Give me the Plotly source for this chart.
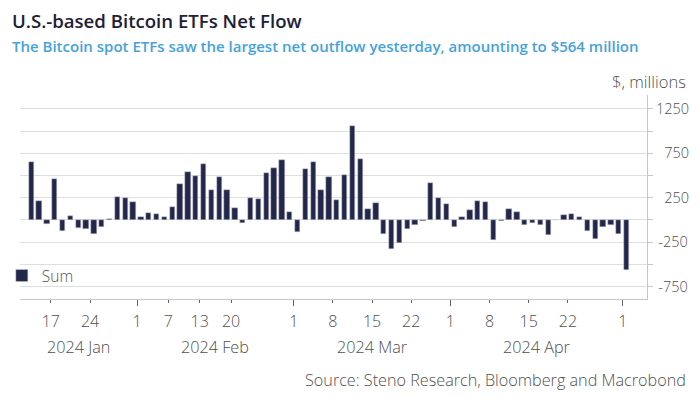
import plotly.graph_objects as go

dates = [
    "2024-01-11", "2024-01-12", "2024-01-16", "2024-01-17", "2024-01-18", "2024-01-19",
    "2024-01-22", "2024-01-23", "2024-01-24", "2024-01-25", "2024-01-26",
    "2024-01-29", "2024-01-30", "2024-01-31",
    "2024-02-01", "2024-02-02", "2024-02-05", "2024-02-06", "2024-02-07", "2024-02-08",
    "2024-02-09", "2024-02-12", "2024-02-13", "2024-02-14", "2024-02-15", "2024-02-16",
    "2024-02-20", "2024-02-21", "2024-02-22", "2024-02-23", "2024-02-26", "2024-02-27",
    "2024-02-28", "2024-02-29",
    "2024-03-01", "2024-03-04", "2024-03-05", "2024-03-06", "2024-03-07", "2024-03-08",
    "2024-03-11", "2024-03-12", "2024-03-13", "2024-03-14", "2024-03-15", "2024-03-18",
    "2024-03-19", "2024-03-20", "2024-03-21", "2024-03-22", "2024-03-25", "2024-03-26",
    "2024-03-27", "2024-03-28",
    "2024-04-01", "2024-04-02", "2024-04-03", "2024-04-04", "2024-04-05", "2024-04-08",
    "2024-04-09", "2024-04-10", "2024-04-11", "2024-04-12", "2024-04-15", "2024-04-16",
    "2024-04-17", "2024-04-18", "2024-04-19", "2024-04-22", "2024-04-23", "2024-04-24",
    "2024-04-25", "2024-04-26", "2024-04-29", "2024-04-30",
    "2024-05-01",
]

net_flow = [
    655, 214, -49, 459, -124, 45, -86, -105, -158, -83, 15, 259, 248, 199,
    38, 79, 68, 30, 147, 406, 545, 496, 635, 342, 481, 335, 135, -34, 252, 233,
    523, 583, 677, 90,
    -139, 568, 650, 335, 478, 222, 508, 1053, 688, 128, 196, -154, -331, -263,
    -98, -53, -16, 421, 244, 180,
    -83, 38, 109, 211, 199, -226, -11, 120, 90, -53, -38, -60, -165, -4, 60, 64,
    30, -120, -218, -83, -53, -158,
    -564,
]

tick_dates = ["2024-01-17", "2024-01-24", "2024-02-01", "2024-02-07", "2024-02-13",
              "2024-02-20", "2024-03-01", "2024-03-08", "2024-03-15", "2024-03-22",
              "2024-04-01", "2024-04-08", "2024-04-15", "2024-04-22", "2024-05-01"]
tick_labels = ["17", "24", "1", "7", "13", "20", "1", "8", "15", "22",
               "1", "8", "15", "22", "1"]
month_starts = ["2024-02-01", "2024-03-01", "2024-04-01", "2024-05-01"]
month_labels = ["2024 Jan", "2024 Feb", "2024 Mar", "2024 Apr"]

y_tickvals = [-750, -500, -250, 0, 250, 500, 750, 1000, 1250]
y_ticktext = ["\u2009-750", "", "\u2009-250", "", "\u2007250", "", "\u2007750", "", "1250"]

BAR = "#23274a"
GRID = "#dedede"
AXIS = "#c8c8c8"
TXT = "#4f4f4f"
FONT = "Open Sans"
LIGHT = 300

x_idx = list(range(len(dates)))
x_min, x_max = -1.44, 78.6

tickvals = [dates.index(d) - 0.5 for d in tick_dates]
month_edges = [x_min] + [dates.index(d) - 0.5 for d in month_starts]
month_mid = [(month_edges[i] + month_edges[i + 1]) / 2 for i in range(len(month_labels))]

fig = go.Figure()
fig.add_trace(go.Bar(
    x=x_idx, y=net_flow, name="Sum", width=0.68,
    marker=dict(color=BAR, line=dict(color="#c9cbd6", width=0.5)),
))

annotations = [
    dict(text="U.S.-based Bitcoin ETFs Net Flow", xref="paper", yref="paper",
         x=-0.0165, y=1.364, xanchor="left", yanchor="middle", showarrow=False,
         font=dict(family=FONT, size=18.6, color="#1d2037", weight=600)),
    dict(text="The Bitcoin spot ETFs saw the largest net outflow yesterday, amounting to $564 million",
         xref="paper", yref="paper", x=-0.0165, y=1.24, xanchor="left", yanchor="middle",
         showarrow=False, font=dict(family=FONT, size=15, color="#45a2dc", weight=600)),
    dict(text="$, millions", xref="paper", yref="paper", x=1.0654, y=1.065,
         xanchor="right", yanchor="middle", showarrow=False,
         font=dict(family=FONT, size=16.5, color=TXT, weight=LIGHT)),
    dict(text="Source: Steno Research, Bloomberg and Macrobond", xref="paper", yref="paper",
         x=1.0654, y=-0.397, xanchor="right", yanchor="middle", showarrow=False,
         font=dict(family=FONT, size=16.2, color=TXT, weight=LIGHT)),
]
for xm, lab in zip(month_mid, month_labels):
    annotations.append(dict(text=lab, x=xm, xref="x", yref="paper", y=-0.237,
                            xanchor="center", yanchor="middle", showarrow=False,
                            font=dict(family=FONT, size=16.2, color=TXT, weight=LIGHT)))

# The page body adds an 8px offset, so the figure is 8px smaller than the window.
fig.update_layout(
    width=692, height=392,
    margin=dict(l=12, r=53, t=87, b=101, autoexpand=False),
    paper_bgcolor="white", plot_bgcolor="white",
    font=dict(family=FONT, size=15, color=TXT),
    showlegend=True,
    legend=dict(x=-0.029, y=0.113, xanchor="left", yanchor="middle",
                bgcolor="rgba(0,0,0,0)",
                font=dict(family=FONT, size=15.5, color=TXT, weight=LIGHT),
                itemwidth=30, tracegroupgap=0),
    bargap=0,
    annotations=annotations,
    xaxis=dict(
        range=[x_min, x_max], tickmode="array", tickvals=tickvals, ticktext=tick_labels,
        showgrid=False, zeroline=False, showline=True, linecolor=AXIS, linewidth=1,
        ticks="outside", ticklen=3, tickcolor="#666666", tickwidth=1, automargin=False,
        ticklabelstandoff=5,
        tickfont=dict(family=FONT, size=16, color=TXT, weight=LIGHT),
        minor=dict(tickmode="array",
                   tickvals=[dates.index(d) - 0.5 + 0.001 for d in month_starts],
                   ticks="outside", ticklen=6, tickcolor="#666666", tickwidth=1,
                   showgrid=False),
    ),
    yaxis=dict(
        side="right", range=[-889, 1406], tickmode="array", tickvals=y_tickvals,
        ticktext=y_ticktext, showgrid=True, gridcolor=GRID, gridwidth=1,
        zeroline=False, showline=True, linecolor=AXIS, linewidth=1, automargin=False,
        ticks="outside", ticklen=5, tickcolor=AXIS,
        tickfont=dict(family=FONT, size=14.5, color=TXT, weight=LIGHT),
    ),
)

fig.write_html("out.html")
